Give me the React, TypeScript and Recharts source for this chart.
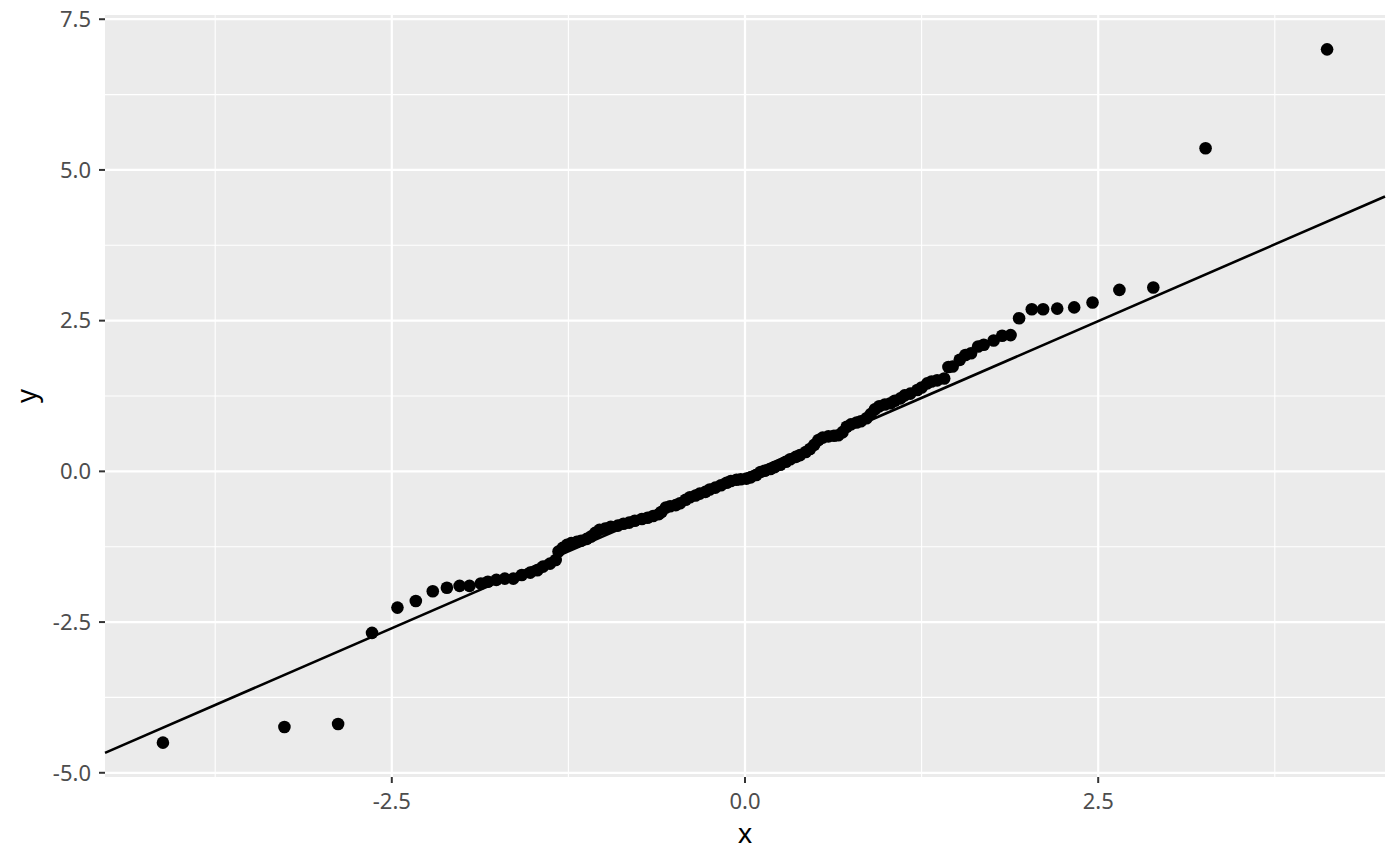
import { ScatterChart, Scatter, XAxis, YAxis, CartesianGrid, ReferenceLine } from "recharts";

// theoretical quantiles (x) and sorted sample (y)
const theoretical = [
  -4.12, -3.26, -2.88, -2.64, -2.46, -2.33, -2.21, -2.11, -2.02, -1.95,
  -1.87, -1.82, -1.76, -1.7, -1.64, -1.58, -1.52, -1.47, -1.43, -1.38,
  -1.34, -1.32, -1.29, -1.26, -1.23, -1.19, -1.16, -1.12, -1.09, -1.06,
  -1.03, -0.99, -0.95, -0.9, -0.86, -0.82, -0.78, -0.73, -0.69, -0.65,
  -0.61, -0.59, -0.56, -0.53, -0.49, -0.46, -0.42, -0.39, -0.35, -0.32,
  -0.28, -0.25, -0.21, -0.17, -0.13, -0.1, -0.06, -0.03, 0.01, 0.04,
  0.08, 0.11, 0.14, 0.18, 0.21, 0.25, 0.29, 0.32, 0.36, 0.39,
  0.43, 0.46, 0.49, 0.52, 0.55, 0.59, 0.63, 0.66, 0.69, 0.72,
  0.75, 0.79, 0.82, 0.86, 0.89, 0.92, 0.95, 0.99, 1.03, 1.06,
  1.1, 1.13, 1.17, 1.22, 1.25, 1.29, 1.32, 1.36, 1.41, 1.44,
  1.47, 1.52, 1.56, 1.6, 1.65, 1.69, 1.76, 1.82, 1.88, 1.94,
  2.03, 2.11, 2.21, 2.33, 2.46, 2.65, 2.89, 3.26, 4.12,
];
const sample = [
  -4.5, -4.24, -4.19, -2.68, -2.26, -2.15, -1.99, -1.93, -1.9, -1.9,
  -1.86, -1.83, -1.8, -1.78, -1.78, -1.72, -1.68, -1.64, -1.58, -1.53,
  -1.47, -1.33, -1.27, -1.22, -1.19, -1.17, -1.15, -1.12, -1.08, -1.02,
  -0.97, -0.95, -0.92, -0.9, -0.87, -0.85, -0.82, -0.79, -0.77, -0.74,
  -0.71, -0.67, -0.6, -0.58, -0.56, -0.53, -0.47, -0.43, -0.4, -0.37,
  -0.34, -0.3, -0.27, -0.23, -0.19, -0.16, -0.14, -0.13, -0.12, -0.1,
  -0.06, -0.01, 0.01, 0.04, 0.07, 0.11, 0.16, 0.2, 0.24, 0.27,
  0.32, 0.37, 0.44, 0.52, 0.56, 0.58, 0.59, 0.6, 0.65, 0.74,
  0.78, 0.81, 0.83, 0.88, 0.95, 1.03, 1.08, 1.11, 1.13, 1.17,
  1.21, 1.26, 1.29, 1.35, 1.39, 1.46, 1.49, 1.51, 1.54, 1.73,
  1.74, 1.85, 1.93, 1.96, 2.07, 2.1, 2.17, 2.25, 2.26, 2.54,
  2.69, 2.69, 2.7, 2.72, 2.8, 3.01, 3.05, 5.36, 7.0,
];

// reference line endpoints at the panel edges
const lineX = [-4.53, 4.53];
const lineY = [-4.67, 4.56];

const xDomain = [-4.53, 4.53];
const yDomain = [-5.07, 7.57];
const xMajor = [-2.5, 0, 2.5];
const xMinor = [-3.75, -1.25, 1.25, 3.75];
const yMajor = [-5, -2.5, 0, 2.5, 5, 7.5];
const yMinor = [-3.75, -1.25, 1.25, 3.75, 6.25];

const points = theoretical.map((x, i) => ({ x, y: sample[i] }));

const tickStyle = { fill: "#4D4D4D", fontSize: 22, fontFamily: "Noto Sans" };
const fmt = (v: number) => v.toFixed(1);

const Dot = (p: any) => <circle cx={p.cx} cy={p.cy} r={6.3} fill="#000" />;

export default function App() {
  return (
    <div style={{ position: "absolute", left: 0, top: 0, background: "#fff" }}>
      <ScatterChart width={1400} height={866} margin={{ top: 15, right: 15, bottom: 0, left: 0 }}>
        <CartesianGrid fill="#EBEBEB" horizontal={false} vertical={false} />
        {xMinor.map((v) => (
          <ReferenceLine key={"xm" + v} x={v} stroke="#fff" strokeWidth={1.1} zIndex={-50} />
        ))}
        {yMinor.map((v) => (
          <ReferenceLine key={"ym" + v} y={v} stroke="#fff" strokeWidth={1.1} zIndex={-50} />
        ))}
        {xMajor.map((v) => (
          <ReferenceLine key={"xM" + v} x={v} stroke="#fff" strokeWidth={2.2} zIndex={-40} />
        ))}
        {yMajor.map((v) => (
          <ReferenceLine key={"yM" + v} y={v} stroke="#fff" strokeWidth={2.2} zIndex={-40} />
        ))}
        <XAxis
          type="number"
          dataKey="x"
          domain={xDomain}
          ticks={xMajor}
          tickFormatter={fmt}
          allowDataOverflow
          height={89}
          axisLine={false}
          tickLine={{ stroke: "#333", strokeWidth: 2 }}
          tickSize={6}
          tickMargin={10}
          tick={tickStyle}
          label={({ viewBox }: any) => (
            <text
              x={viewBox.x + viewBox.width / 2}
              y={viewBox.y + 66}
              textAnchor="middle"
              fontSize={27.5}
              fontFamily="Noto Sans"
              fill="#000"
            >
              x
            </text>
          )}
        />
        <YAxis
          type="number"
          dataKey="y"
          domain={yDomain}
          ticks={yMajor}
          tickFormatter={fmt}
          allowDataOverflow
          width={105}
          axisLine={false}
          tickLine={{ stroke: "#333", strokeWidth: 2 }}
          tickSize={6}
          tickMargin={8}
          tick={tickStyle}
          label={({ viewBox }: any) => {
            const cx = viewBox.x + 36;
            const cy = viewBox.y + viewBox.height / 2;
            return (
              <text
                x={cx}
                y={cy}
                transform={`rotate(-90, ${cx}, ${cy})`}
                textAnchor="middle"
                fontSize={27.5}
                fontFamily="Noto Sans"
                fill="#000"
              >
                y
              </text>
            );
          }}
        />
        <ReferenceLine
          segment={[
            { x: lineX[0], y: lineY[0] },
            { x: lineX[1], y: lineY[1] },
          ]}
          stroke="#000"
          strokeWidth={2.6}
        />
        <Scatter data={points} fill="#000" shape={Dot} isAnimationActive={false} />
      </ScatterChart>
    </div>
  );
}
